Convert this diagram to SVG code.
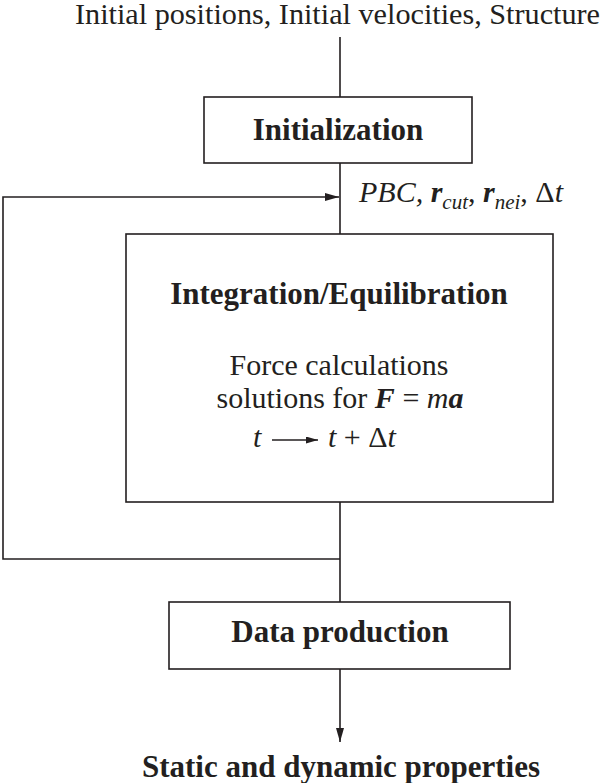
<svg xmlns="http://www.w3.org/2000/svg" width="607" height="783" viewBox="0 0 607 783">
<style>
text{font-family:"Liberation Serif","Times New Roman",serif;fill:#231f20;font-size:30px}
.b{font-weight:bold;font-size:31px}
.i{font-style:italic}
.bi{font-weight:bold;font-style:italic}
.box{fill:#fff;stroke:#231f20;stroke-width:1.6}
.ln{fill:none;stroke:#231f20;stroke-width:1.6}
</style>
<defs>
<marker id="ah" viewBox="0 0 14 8" refX="14" refY="4" markerWidth="14" markerHeight="8" markerUnits="userSpaceOnUse" orient="auto">
<path d="M0,0 L14,4 L0,8 Z" fill="#231f20"/>
</marker>
<marker id="ahs" viewBox="0 0 12 7" refX="12" refY="3.5" markerWidth="12" markerHeight="7" markerUnits="userSpaceOnUse" orient="auto">
<path d="M0,0 L12,3.5 L0,7 Z" fill="#231f20"/>
</marker>
</defs>
<g id="connectors">
<line class="ln" x1="340" y1="37" x2="340" y2="97"/>
<line class="ln" x1="340" y1="163" x2="340" y2="234"/>
<line class="ln" x1="340" y1="502" x2="340" y2="602"/>
<path class="ln" d="M340,559 H3 V197 H339" marker-end="url(#ah)"/>
<line class="ln" x1="340" y1="669" x2="340" y2="742" marker-end="url(#ah)"/>
</g>
<g id="input">
<text x="75" y="24" font-size="24" textLength="525" lengthAdjust="spacingAndGlyphs">Initial positions, Initial velocities, Structure</text>
</g>
<g id="initialization">
<rect class="box" x="204" y="97" width="268" height="66"/>
<text class="b" x="338" y="140" text-anchor="middle">Initialization</text>
</g>
<g id="parameters">
<text x="359" y="202"><tspan class="i">PBC, </tspan><tspan class="bi">r</tspan><tspan class="i" font-size="21" dy="7">cut</tspan><tspan dy="-7">, </tspan><tspan class="bi">r</tspan><tspan class="i" font-size="21" dy="7">nei</tspan><tspan dy="-7">, Δ</tspan><tspan class="i">t</tspan></text>
</g>
<g id="integration">
<rect class="box" x="126" y="234" width="427" height="268"/>
<text class="b" x="339" y="304" text-anchor="middle">Integration/Equilibration</text>
<text x="339" y="375" text-anchor="middle">Force calculations</text>
<text x="340" y="408" text-anchor="middle">solutions for <tspan class="bi">F</tspan> = <tspan class="i">m</tspan><tspan class="bi">a</tspan></text>
<text class="i" x="253" y="447">t</text>
<line class="ln" x1="272" y1="440" x2="318" y2="440" stroke-width="1.3" marker-end="url(#ahs)"/>
<text x="328" y="447"><tspan class="i">t</tspan> + Δ<tspan class="i">t</tspan></text>
</g>
<g id="data-production">
<rect class="box" x="169" y="602" width="341" height="67"/>
<text class="b" x="340" y="642" text-anchor="middle">Data production</text>
</g>
<g id="output">
<text class="b" x="341" y="777" text-anchor="middle">Static and dynamic properties</text>
</g>
</svg>
